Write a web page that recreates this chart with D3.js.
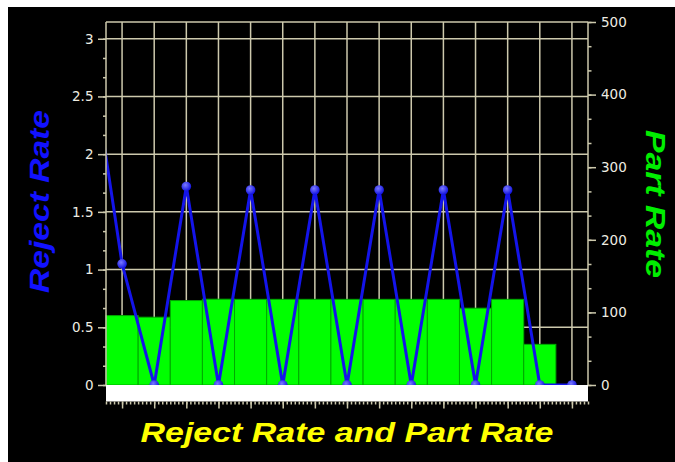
<!DOCTYPE html>
<html><head><meta charset="utf-8">
<script src="https://cdn.jsdelivr.net/npm/d3@7"></script>
<style>html,body{margin:0;padding:0;background:#fff;} svg{display:block}</style>
</head><body>
<svg id="c" width="675" height="462"></svg>
<script>
// ---- data ----
const categories = d3.range(1, 16).map(String);          // 15 slots on the x axis
const partRate   = [95.6, 93.4, 116.3, 118.2, 118, 118, 118, 118, 118, 118, 118, 105.8, 118, 56, 0];
const rejectLead = 2.9;                                    // value of the slot just before the window (clipped)
const rejectRate = [1.05, 0, 1.72, 0, 1.69, 0, 1.69, 0, 1.69, 0, 1.69, 0, 1.69, 0, 0];
const leftTicks  = [0, 0.5, 1, 1.5, 2, 2.5, 3];
const rightTicks = [0, 100, 200, 300, 400, 500];
const leftMax = 3.145, rightMax = 500;
const titleText = "Reject Rate and Part Rate";
const leftTitle = "Reject Rate";
const rightTitle = "Part Rate";

// ---- layout ----
const L = 106, R = 588, T = 22, B = 385, BAND_B = 401.5;
const svg = d3.select("#c");
svg.append("rect").attr("x", 8).attr("y", 7).attr("width", 667).attr("height", 455).attr("fill", "#000");

const n = categories.length;
const x = d3.scaleLinear().domain([-0.5, n - 0.5]).range([L, R]);
const yL = d3.scaleLinear().domain([0, leftMax]).range([B, T]);
const yR = d3.scaleLinear().domain([0, rightMax]).range([B, T]);

const gridCol = "#cdc9ad";
const defs = svg.append("defs");
defs.append("clipPath").attr("id", "plot").append("rect")
  .attr("x", L).attr("y", T).attr("width", R - L).attr("height", B - T);
const grad = defs.append("radialGradient").attr("id", "mk").attr("cx", "40%").attr("cy", "35%").attr("r", "65%");
grad.append("stop").attr("offset", "0%").attr("stop-color", "#7a7aff");
grad.append("stop").attr("offset", "100%").attr("stop-color", "#1010e0");

// gridlines
const grid = svg.append("g").attr("stroke", gridCol).attr("stroke-width", 1.5);
grid.selectAll("line.h").data(leftTicks.filter(d => d > 0)).join("line")
  .attr("x1", L).attr("x2", R).attr("y1", d => yL(d)).attr("y2", d => yL(d));
grid.selectAll("line.v").data(categories).join("line")
  .attr("x1", (d, i) => x(i)).attr("x2", (d, i) => x(i)).attr("y1", T).attr("y2", B);

// bars
svg.append("g").selectAll("rect").data(partRate).join("rect")
  .attr("x", (d, i) => x(i - 0.5)).attr("width", (d, i) => x(i + 0.5) - x(i - 0.5))
  .attr("y", d => yR(d)).attr("height", d => B - yR(d))
  .attr("fill", "#00ff00").attr("stroke", "#00a800").attr("stroke-width", 1)
  .attr("display", d => d > 0 ? null : "none");

// line + markers (clipped to plot)
const pts = [[-1, rejectLead]].concat(rejectRate.map((v, i) => [i, v]));
const lg = svg.append("g").attr("clip-path", "url(#plot)");
lg.append("path").datum(pts)
  .attr("d", d3.line().x(d => x(d[0])).y(d => yL(d[1])))
  .attr("fill", "none").attr("stroke", "#1414ea").attr("stroke-width", 3);
lg.selectAll("circle").data(pts.slice(1)).join("circle")
  .attr("cx", d => x(d[0])).attr("cy", d => yL(d[1])).attr("r", 4.8)
  .attr("fill", "url(#mk)");

// white band under plot
svg.append("rect").attr("x", L).attr("y", B).attr("width", R - L).attr("height", BAND_B - B).attr("fill", "#fff");

// borders
svg.append("g").attr("stroke", gridCol).attr("stroke-width", 1.5).call(g => {
  g.append("line").attr("x1", L).attr("x2", R).attr("y1", T).attr("y2", T);
  g.append("line").attr("x1", L).attr("x2", L).attr("y1", T).attr("y2", B);
  g.append("line").attr("x1", R).attr("x2", R).attr("y1", T).attr("y2", B);
});

const labFont = "DejaVu Sans, Verdana, sans-serif";
const labCol = "#eeece2";
function style(g, keepText) {
  g.select(".domain").remove();
  g.selectAll("line").attr("stroke", gridCol).attr("stroke-width", 1.5);
  g.selectAll("text").attr("fill", labCol).attr("font-family", labFont).attr("font-size", 13.5);
  if (!keepText) g.selectAll("text").remove();
}
// left axis
svg.append("g").attr("transform", `translate(${L},0)`)
  .call(d3.axisLeft(yL).tickValues(d3.range(0, 3.1, 0.5 / 3)).tickSize(3).tickFormat(""))
  .call(g => style(g, false));
svg.append("g").attr("transform", `translate(${L},0)`)
  .call(d3.axisLeft(yL).tickValues(leftTicks).tickSize(8).tickPadding(4.5).tickFormat(d => String(d)))
  .call(g => style(g, true));
// right axis
svg.append("g").attr("transform", `translate(${R},0)`)
  .call(d3.axisRight(yR).tickValues(d3.range(0, 501, 100 / 3)).tickSize(3.5).tickFormat(""))
  .call(g => style(g, false));
svg.append("g").attr("transform", `translate(${R},0)`)
  .call(d3.axisRight(yR).tickValues(rightTicks).tickSize(8).tickPadding(5).tickFormat(d => String(d)))
  .call(g => style(g, true));
// bottom axis (ticks only)
svg.append("g").attr("transform", `translate(0,${BAND_B})`)
  .call(d3.axisBottom(x).tickValues(d3.range(-0.5, n - 0.49, 1 / 8)).tickSize(3).tickFormat(""))
  .call(g => style(g, false));
svg.append("g").attr("transform", `translate(0,${BAND_B})`)
  .call(d3.axisBottom(x).tickValues(d3.range(0, n)).tickSize(7).tickFormat(""))
  .call(g => style(g, false));

// titles
const tFont = "Liberation Sans, Arial, sans-serif";
svg.append("text").text(titleText)
  .attr("x", (L + R) / 2).attr("y", 441.5).attr("text-anchor", "middle")
  .attr("font-family", tFont).attr("font-weight", "bold").attr("font-style", "italic")
  .attr("font-size", 28).attr("fill", "#ffff00")
  .attr("textLength", 413).attr("lengthAdjust", "spacingAndGlyphs");
svg.append("text").text(leftTitle)
  .attr("transform", "translate(49,201.5) rotate(-90)").attr("text-anchor", "middle")
  .attr("font-family", tFont).attr("font-weight", "bold").attr("font-style", "italic")
  .attr("font-size", 28).attr("fill", "#1212ff")
  .attr("textLength", 183).attr("lengthAdjust", "spacingAndGlyphs");
svg.append("text").text(rightTitle)
  .attr("transform", "translate(646,204) rotate(90)").attr("text-anchor", "middle")
  .attr("font-family", tFont).attr("font-weight", "bold").attr("font-style", "italic")
  .attr("font-size", 28).attr("fill", "#00ee00")
  .attr("textLength", 148).attr("lengthAdjust", "spacingAndGlyphs");
</script>
</body></html>
